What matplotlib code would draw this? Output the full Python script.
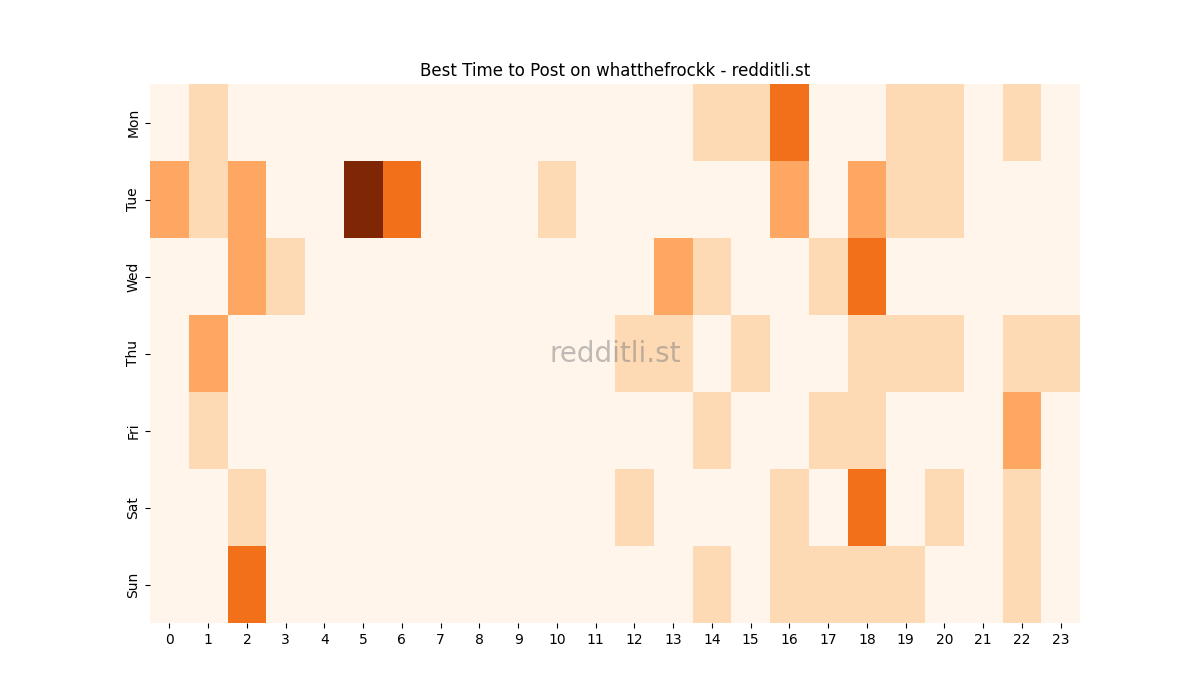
import numpy as np
import matplotlib
matplotlib.use("Agg")
import matplotlib.pyplot as plt
import seaborn as sns

days = ["Mon", "Tue", "Wed", "Thu", "Fri", "Sat", "Sun"]
hours = list(range(24))

mon = [0, 1, 0, 0, 0, 0, 0, 0, 0, 0, 0, 0, 0, 0, 1, 1, 3, 0, 0, 1, 1, 0, 1, 0]
tue = [2, 1, 2, 0, 0, 5, 3, 0, 0, 0, 1, 0, 0, 0, 0, 0, 2, 0, 2, 1, 1, 0, 0, 0]
wed = [0, 0, 2, 1, 0, 0, 0, 0, 0, 0, 0, 0, 0, 2, 1, 0, 0, 1, 3, 0, 0, 0, 0, 0]
thu = [0, 2, 0, 0, 0, 0, 0, 0, 0, 0, 0, 0, 1, 1, 0, 1, 0, 0, 1, 1, 1, 0, 1, 1]
fri = [0, 1, 0, 0, 0, 0, 0, 0, 0, 0, 0, 0, 0, 0, 1, 0, 0, 1, 1, 0, 0, 0, 2, 0]
sat = [0, 0, 1, 0, 0, 0, 0, 0, 0, 0, 0, 0, 1, 0, 0, 0, 1, 0, 3, 0, 1, 0, 1, 0]
sun = [0, 0, 3, 0, 0, 0, 0, 0, 0, 0, 0, 0, 0, 0, 1, 0, 1, 1, 1, 1, 0, 0, 1, 0]

grid = np.array([mon, tue, wed, thu, fri, sat, sun])

fig, ax = plt.subplots(figsize=(12, 7), dpi=100)

sns.heatmap(
    grid,
    cmap="Oranges",
    cbar=False,
    xticklabels=hours,
    yticklabels=days,
    ax=ax
)

ax.set_title("Best Time to Post on whatthefrockk - redditli.st")

ax.text(
    0.5, 0.5, "redditli.st",
    transform=ax.transAxes,
    ha="center", va="center",
    fontsize=20, color="gray", alpha=0.5
)

fig.savefig("out.png")
